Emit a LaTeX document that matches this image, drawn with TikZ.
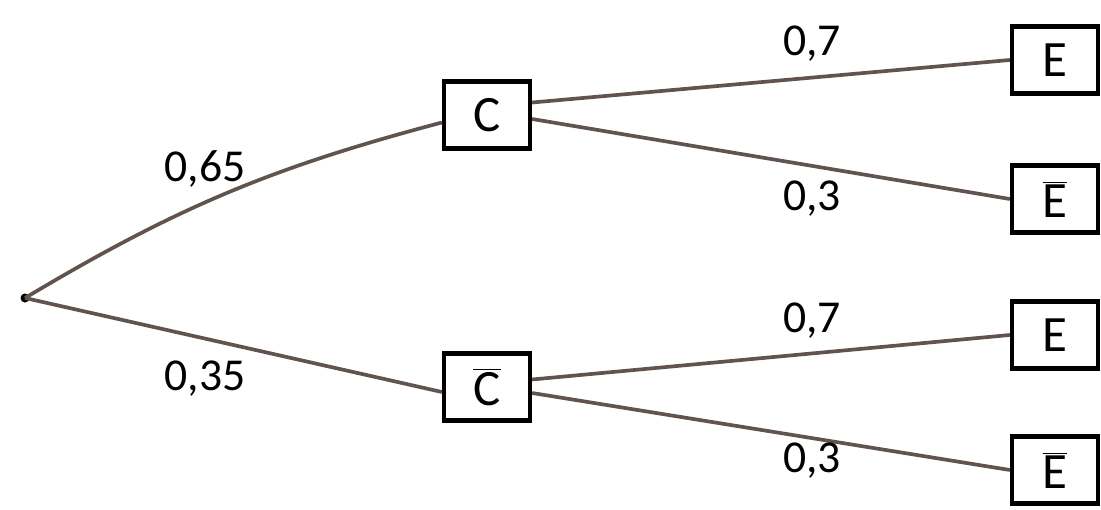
\documentclass[tikz,border=0pt]{standalone}
\usepackage{fontspec}
\setmainfont{Carlito}
\usepackage{tikz}
\usetikzlibrary{positioning}
\definecolor{branch}{rgb}{0.38,0.33,0.31}

\begin{document}
\begin{tikzpicture}[
  box/.style={rectangle, draw, line width=2.4pt, minimum width=1.72cm, minimum height=1.34cm, inner sep=0pt, font=\fontsize{29}{32}\selectfont},
  edge/.style={draw=branch, line width=2.1pt},
  prob/.style={font=\fontsize{26}{28}\selectfont}
]
\useasboundingbox (0,0) rectangle (22.02,10.18);
\fill (0.5,4.22) circle (0.09) coordinate (root);

\node[box] (c) at (9.74,7.88) {C};
\node[box] (cbar) at (9.74,2.44) {$\overline{\mbox{C}}$};

\node[box] (e1) at (21.1,8.98) {E};
\node[box] (e2) at (21.1,6.2) {$\overline{\mbox{E}}$};
\node[box] (e3) at (21.1,3.48) {E};
\node[box] (e4) at (21.1,0.78) {$\overline{\mbox{E}}$};

\draw[edge] (root) to[bend left=8] ([yshift=-0.15cm]c.west);
\draw[edge] (root) -- ([yshift=-0.1cm]cbar.west);
\draw[edge] ([yshift=0.25cm]c.east) -- (e1.west);
\draw[edge] ([yshift=-0.08cm]c.east) -- (e2.west);
\draw[edge] ([yshift=0.15cm]cbar.east) -- (e3.west);
\draw[edge] ([yshift=-0.12cm]cbar.east) -- (e4.west);

\node[prob] (p1) at (4.1,6.8) {0,65};
\node[prob] (p2) at (4.1,2.6) {0,35};
\node[prob] (p3) at (16.24,9.3) {0,7};
\node[prob] (p4) at (16.24,6.2) {0,3};
\node[prob] (p5) at (16.24,3.76) {0,7};
\node[prob] (p6) at (16.24,0.96) {0,3};
\end{tikzpicture}
\end{document}
